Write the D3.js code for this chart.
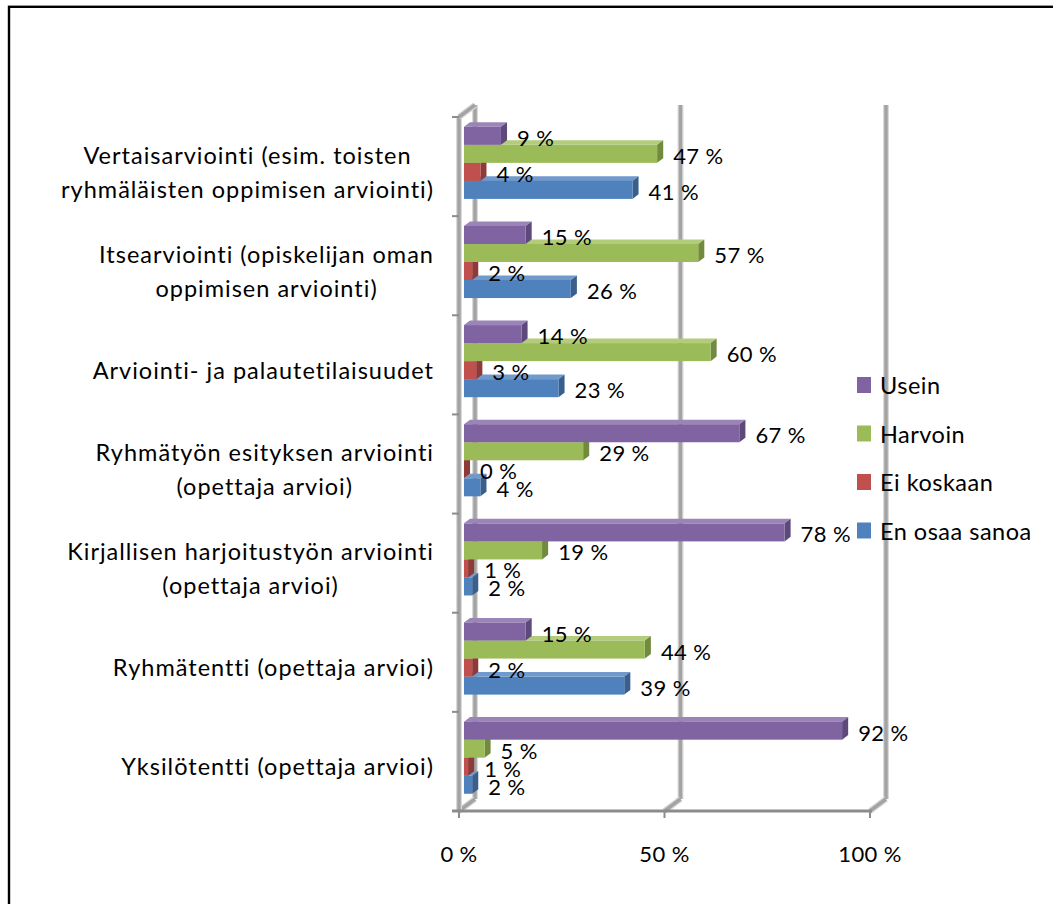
<!DOCTYPE html>
<html><head><meta charset="utf-8">
<script src="https://cdn.jsdelivr.net/npm/d3@7"></script>
<style>
body{margin:0;background:#fff}
svg{display:block}
text{font-family:Lato,"Open Sans",sans-serif;fill:#000}
</style>
</head><body>
<svg id="c" width="1053" height="904"></svg>
<script>
const categories = [
  "Vertaisarviointi (esim. toisten ryhmäläisten oppimisen arviointi)",
  "Itsearviointi (opiskelijan oman oppimisen arviointi)",
  "Arviointi- ja palautetilaisuudet",
  "Ryhmätyön esityksen arviointi (opettaja arvioi)",
  "Kirjallisen harjoitustyön arviointi (opettaja arvioi)",
  "Ryhmätentti (opettaja arvioi)",
  "Yksilötentti (opettaja arvioi)"
];
const categoryLines = [
  ["Vertaisarviointi (esim. toisten", "ryhmäläisten oppimisen arviointi)"],
  ["Itsearviointi (opiskelijan oman", "oppimisen arviointi)"],
  ["Arviointi- ja palautetilaisuudet"],
  ["Ryhmätyön esityksen arviointi", "(opettaja arvioi)"],
  ["Kirjallisen harjoitustyön arviointi", "(opettaja arvioi)"],
  ["Ryhmätentti (opettaja arvioi)"],
  ["Yksilötentti (opettaja arvioi)"]
];
const seriesNames = ["Usein", "Harvoin", "Ei koskaan", "En osaa sanoa"];
const usein     = [9, 15, 14, 67, 78, 15, 92];
const harvoin   = [47, 57, 60, 29, 19, 44, 5];
const eiKoskaan = [4, 2, 3, 0, 1, 2, 1];
const enOsaa    = [41, 26, 23, 4, 2, 39, 2];
const xTicks = [0, 50, 100];
const xTickLabels = ["0 %", "50 %", "100 %"];

const seriesValues = [usein, harvoin, eiKoskaan, enOsaa];
const baseColors = ["#8064A2", "#9BBB59", "#C0504D", "#4F81BD"];
const topColors  = ["#9A84B8", "#B2CC7C", "#D0706D", "#7099CC"];
const sideColors = ["#5E4A7A", "#718A3E", "#8E3A38", "#3A5F8C"];

const FONT = 22;
const CAT_FONT = 23.5;
const svg = d3.select("#c");

// frame
svg.append("rect").attr("x", 9).attr("y", 6.8).attr("width", 1200).attr("height", 1200)
  .attr("fill", "none").attr("stroke", "#000").attr("stroke-width", 2.4);

const x = d3.scaleLinear().domain([0, 100]).range([459, 870]);
const y = d3.scaleBand().domain(categories).range([117, 811]);
const DX = 16, DY = -12, T0 = 0.31, T1 = 0.69;
const ys = d3.scaleBand().domain(seriesNames).range([0, y.bandwidth()]).paddingInner(0).paddingOuter(0.75);
const yTop = 117, yBot = 811;

const grid = svg.append("g");
function wallLine(x1, y1, x2, y2) {
  grid.append("line").attr("x1", x1).attr("y1", y1).attr("x2", x2).attr("y2", y2)
    .attr("stroke", "#dadada").attr("stroke-width", 6);
  grid.append("line").attr("x1", x1).attr("y1", y1).attr("x2", x2).attr("y2", y2)
    .attr("stroke", "#a3a3a3").attr("stroke-width", 3.5);
}
xTicks.forEach(t => {
  wallLine(x(t) + DX, yTop + DY, x(t) + DX, yBot + DY);
  wallLine(x(t), yBot, x(t) + DX, yBot + DY);
});
wallLine(x(0), yTop, x(0), yBot);
wallLine(x(0), yTop, x(0) + DX, yTop + DY);
grid.append("line").attr("x1", 452).attr("x2", x(100) + 2).attr("y1", yBot).attr("y2", yBot)
  .attr("stroke", "#8c8c8c").attr("stroke-width", 3);
xTicks.forEach(t => {
  grid.append("line").attr("x1", x(t)).attr("x2", x(t)).attr("y1", yBot).attr("y2", yBot + 7)
    .attr("stroke", "#8c8c8c").attr("stroke-width", 2);
});
categories.concat([null]).forEach((c) => {
  const yy = c ? y(c) : yBot;
  grid.append("line").attr("x1", 452).attr("x2", x(0)).attr("y1", yy).attr("y2", yy)
    .attr("stroke", "#8c8c8c").attr("stroke-width", 2);
});

svg.append("g").selectAll("text").data(xTicks).join("text")
  .attr("x", d => x(d)).attr("y", 862).attr("text-anchor", "middle")
  .attr("font-size", FONT).attr("letter-spacing", 0.4).text((d, i) => xTickLabels[i]);

const bars = svg.append("g");
const dxb = (T1 - T0) * DX, dyb = (T1 - T0) * DY;
const h = ys.bandwidth();
categories.forEach((c, ci) => {
  for (let si = seriesNames.length - 1; si >= 0; si--) {
    const v = seriesValues[si][ci];
    const x0 = x(0) + T0 * DX, x1 = x(v) + T0 * DX;
    const y0 = y(c) + ys(seriesNames[si]) + T0 * DY;
    const g = bars.append("g");
    g.append("polygon").attr("points", [[x0, y0], [x1, y0], [x1 + dxb, y0 + dyb], [x0 + dxb, y0 + dyb]].join(" "))
      .attr("fill", topColors[si]);
    g.append("polygon").attr("points", [[x1, y0], [x1 + dxb, y0 + dyb], [x1 + dxb, y0 + h + dyb], [x1, y0 + h]].join(" "))
      .attr("fill", sideColors[si]);
    g.append("rect").attr("x", x0).attr("y", y0).attr("width", Math.max(0, x1 - x0)).attr("height", h)
      .attr("fill", baseColors[si]);
  }
});
const labels = svg.append("g");
categories.forEach((c, ci) => {
  seriesNames.forEach((s, si) => {
    const v = seriesValues[si][ci];
    const x1 = x(v) + T0 * DX;
    const y0 = y(c) + ys(s) + T0 * DY;
    labels.append("text").attr("x", x1 + dxb + 10).attr("y", y0 + h / 2 + 10)
      .attr("font-size", FONT).attr("letter-spacing", 0.4).text(v + "\u00a0%");
  });
});

const catG = svg.append("g");
categories.forEach((c, ci) => {
  const lines = categoryLines[ci];
  const cy = y(c) + y.bandwidth() / 2;
  const tmp = lines.map((l, li) => catG.append("text").attr("font-size", CAT_FONT)
    .attr("letter-spacing", 1).attr("text-anchor", "middle")
    .attr("y", cy + 14 + (li - (lines.length - 1) / 2) * 34).text(l));
  const maxW = d3.max(tmp, t => t.node().getComputedTextLength());
  const cx = 434 - maxW / 2;
  tmp.forEach(t => t.attr("x", cx));
});

const leg = svg.append("g");
seriesNames.forEach((s, i) => {
  const by = 394 + i * 48.5;
  leg.append("rect").attr("x", 857).attr("y", by - 17).attr("width", 14).attr("height", 16).attr("fill", baseColors[i]);
  leg.append("text").attr("x", 880).attr("y", by).attr("font-size", CAT_FONT)
    .attr("letter-spacing", 0.5).text(s);
});
</script>
</body></html>
